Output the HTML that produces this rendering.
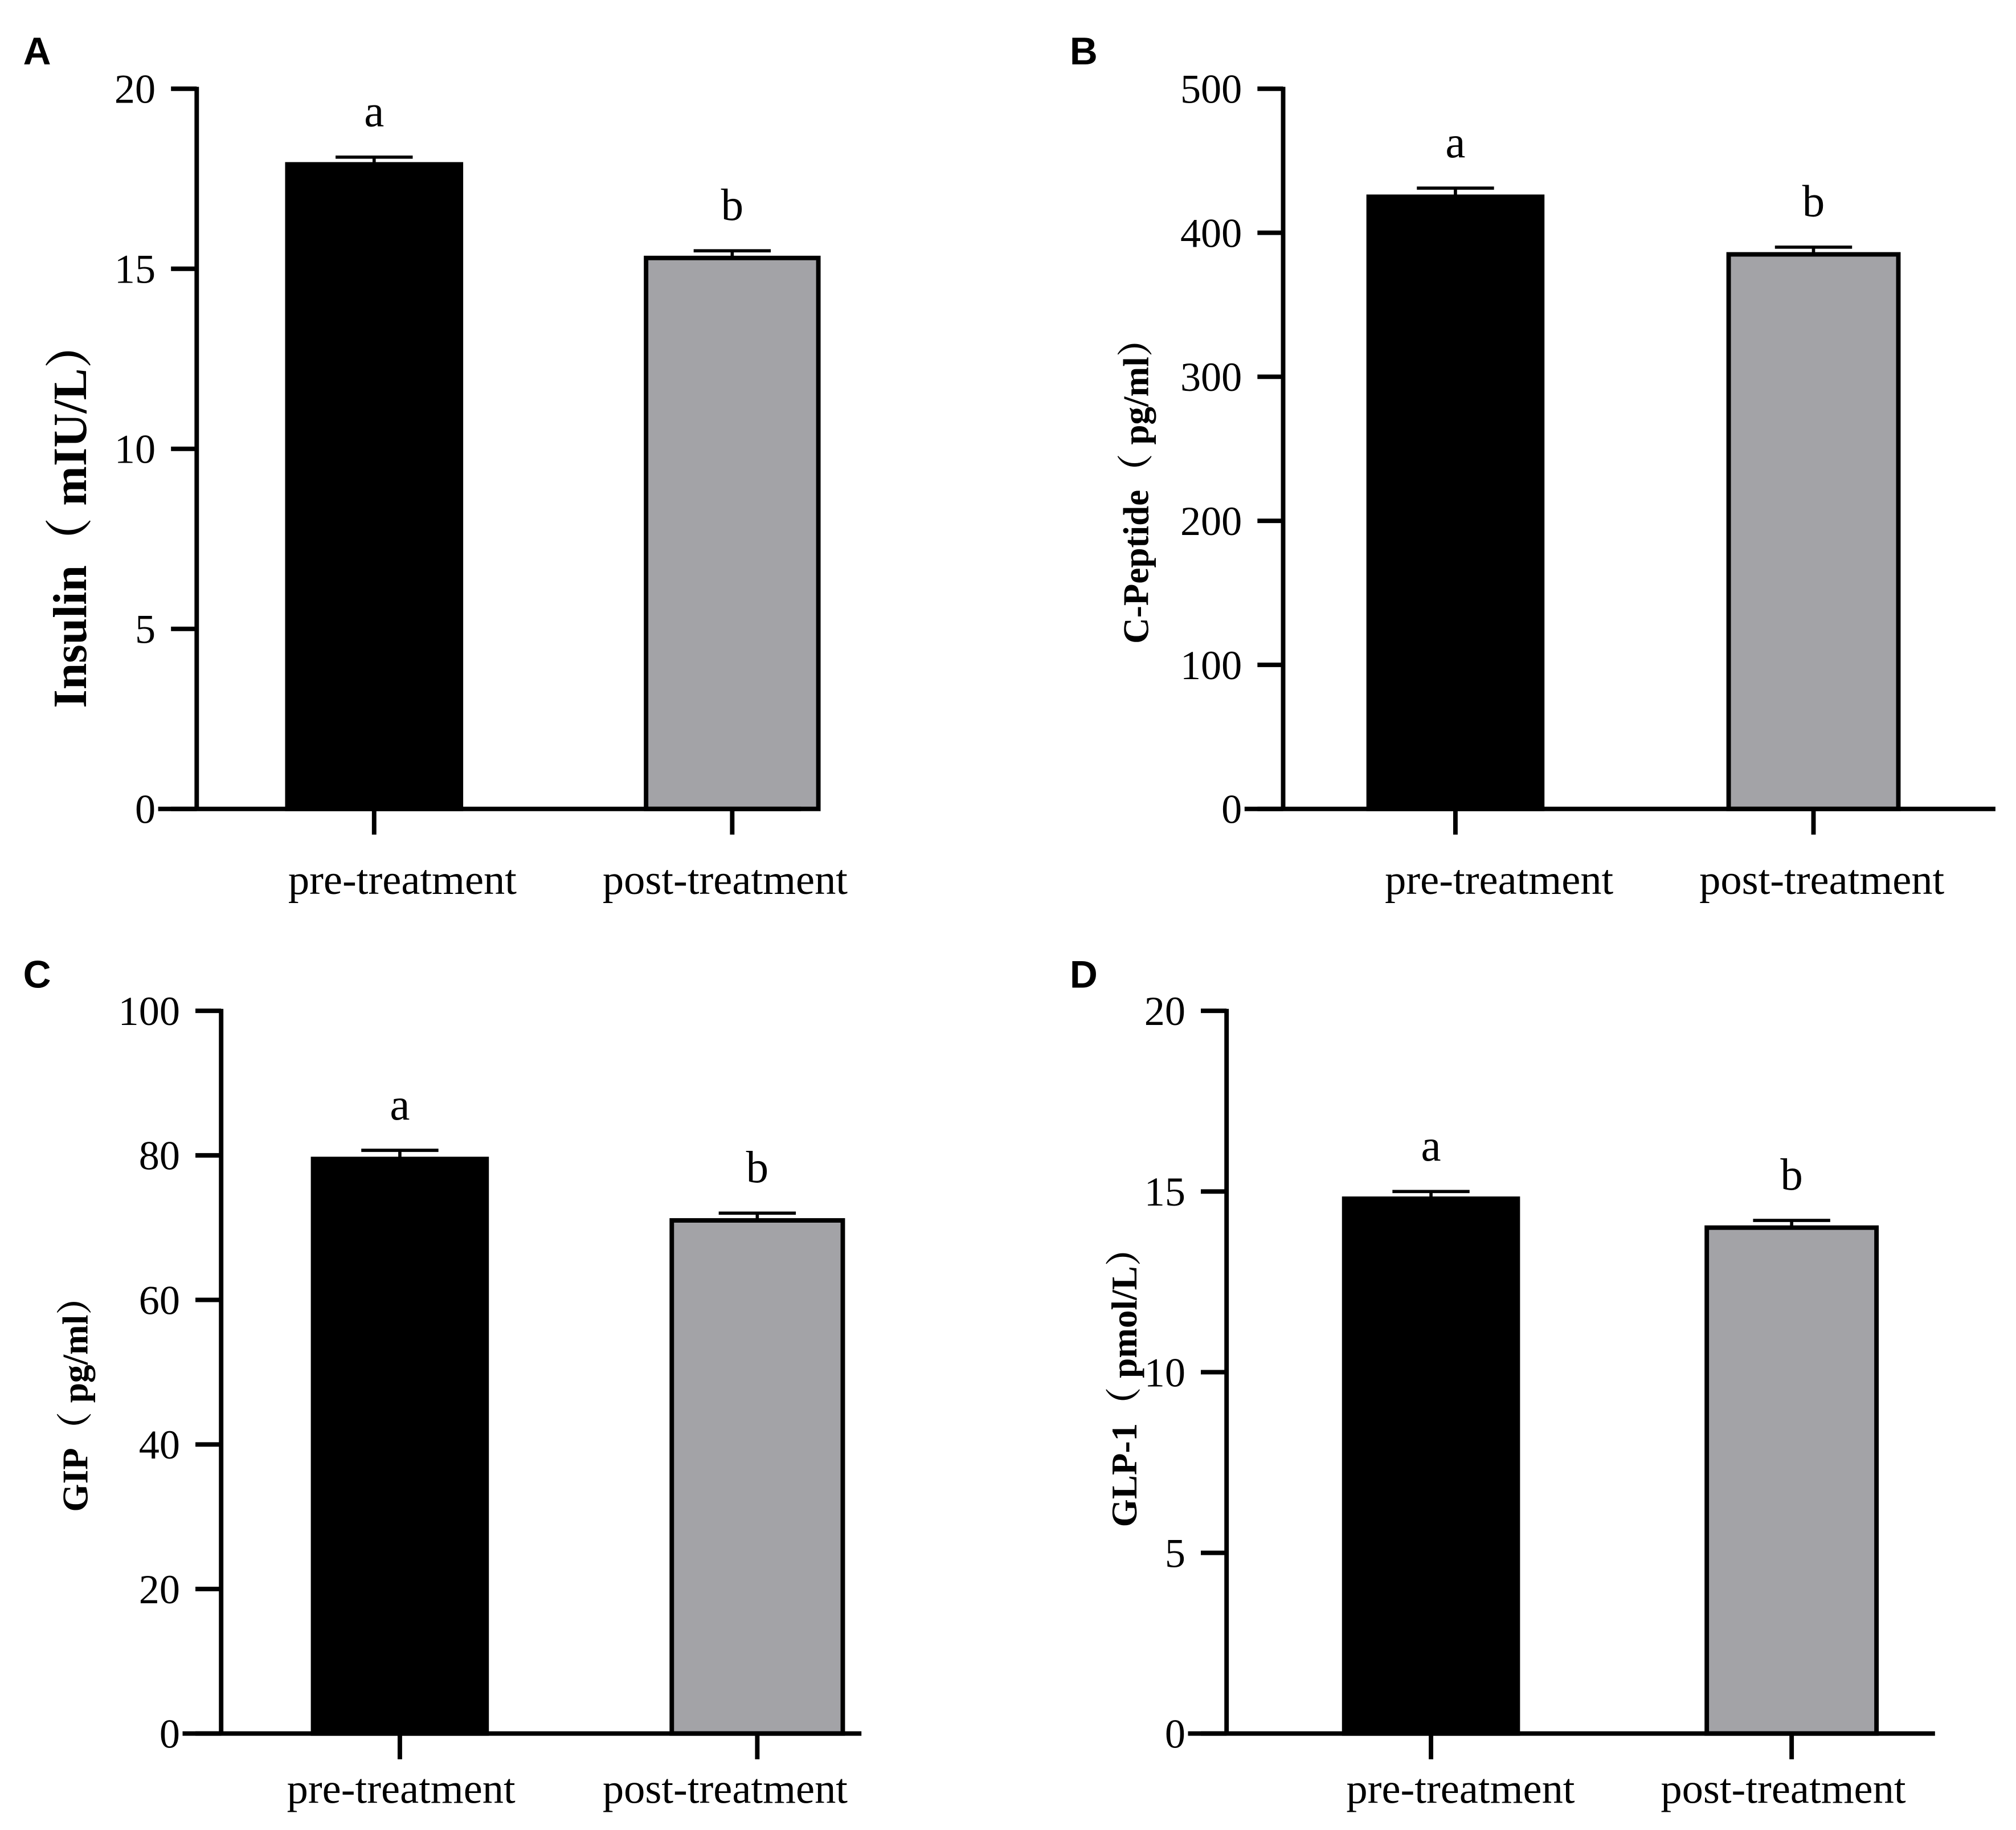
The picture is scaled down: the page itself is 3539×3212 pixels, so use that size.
<!DOCTYPE html>
<html><head><meta charset="utf-8"><style>
html,body{margin:0;padding:0;background:#fff;}
svg{display:block;}
text{font-family:"Liberation Serif","Noto Serif CJK SC",serif;fill:#000;}
.plab{font-family:"Liberation Sans",sans-serif;font-weight:bold;font-size:30px;}
</style></head><body>
<svg id="fig" width="3539" height="3212" viewBox="0 0 1568 1423" preserveAspectRatio="none" xmlns="http://www.w3.org/2000/svg"></svg>
<script>
const categories = ["pre-treatment","post-treatment"];
const insulinValues = [17.9, 15.3];
const insulinErrors = [0.2, 0.2];
const insulinTicks = [0,5,10,15,20];
const cpepValues = [425, 385];
const cpepErrors = [6, 5];
const cpepTicks = [0,100,200,300,400,500];
const gipValues = [79.5, 71];
const gipErrors = [1.2, 1.0];
const gipTicks = [0,20,40,60,80,100];
const glpValues = [14.8, 14.0];
const glpErrors = [0.2, 0.2];
const glpTicks = [0,5,10,15,20];
const sigLetters = ["a","b"];

const NS="http://www.w3.org/2000/svg";
const svg=document.getElementById('fig');
function mk(tag,attrs,parent){const e=document.createElementNS(NS,tag);for(const k in attrs)e.setAttribute(k,attrs[k]);(parent||svg).appendChild(e);return e;}

const panels=[
 {id:"a",label:"A",lx:18,ly:50,ax:153,top:69,zero:629,xend:623,bars:[[222,360],[501,638]],lxs:[313,564],vals:insulinValues,errs:insulinErrors,ticks:insulinTicks,title:"Insulin\uFF08 mIU/L\uFF09",tsize:37,tx:67,tcy:400,loff:66},
 {id:"b",label:"B",lx:832,ly:50,ax:998,top:69,zero:629,xend:1552,bars:[[1063,1201],[1343,1478]],lxs:[1166,1417],vals:cpepValues,errs:cpepErrors,ticks:cpepTicks,title:"C-Peptide\uFF08 pg/ml\uFF09",tsize:28,tx:893,tcy:375,loff:66},
 {id:"c",label:"C",lx:18,ly:768,ax:172,top:786,zero:1348,xend:670,bars:[[242,380],[521,657]],lxs:[312,564],vals:gipValues,errs:gipErrors,ticks:gipTicks,title:"GIP\uFF08 pg/ml\uFF09",tsize:28,tx:68,tcy:1085,loff:54},
 {id:"d",label:"D",lx:832,ly:768,ax:954,top:786,zero:1348,xend:1505,bars:[[1044,1182],[1326,1461]],lxs:[1136,1387],vals:glpValues,errs:glpErrors,ticks:glpTicks,title:"GLP-1\uFF08 pmol/L\uFF09",tsize:28,tx:884,tcy:1072,loff:54}
];

panels.forEach(p=>{
  const g=mk('g',{});
  
  
  const pl=mk('text',{x:p.lx,y:p.ly,class:'plab'},g);pl.textContent=p.label;
  
  
  const maxT=p.ticks[p.ticks.length-1];
  const y=v=>p.zero-(v/maxT)*(p.zero-p.top);
  p.vals.forEach((v,i)=>{
    const [x0,x1]=p.bars[i];
    const cx=(x0+x1)/2;
    const err=mk('path',{d:`M${cx} ${y(v)} V${y(v+p.errs[i])} M${cx-30} ${y(v+p.errs[i])} H${cx+30}`,stroke:'#000','stroke-width':2.5,fill:'none'},g);
    
    
    const r=mk('rect',{x:x0+1.5,y:y(v),width:x1-x0-3,height:p.zero-y(v),fill:i==0?'#000':'#a3a3a7',stroke:'#000','stroke-width':3.5},g);
    
    
    const sl=mk('text',{x:cx,y:y(v+p.errs[i])-24,'text-anchor':'middle','font-size':35},g);
    sl.textContent=sigLetters[i];
    
    
    const tk=mk('line',{x1:cx,y1:p.zero,x2:cx,y2:p.zero+20,stroke:'#000','stroke-width':3.5},g);
    
    
    const cl=mk('text',{x:p.lxs[i],y:p.zero+p.loff,'text-anchor':'middle','font-size':33},g);
    cl.textContent=categories[i];
    
    
  });
  const ya=mk('line',{x1:p.ax,y1:p.top-1.5,x2:p.ax,y2:p.zero+1.5,stroke:'#000','stroke-width':3.5},g);
  
  
  const xa=mk('line',{x1:p.ax-30,y1:p.zero,x2:p.xend,y2:p.zero,stroke:'#000','stroke-width':3.5},g);
  
  
  p.ticks.forEach(t=>{
    const l=mk('line',{x1:p.ax-20,y1:y(t),x2:p.ax,y2:y(t),stroke:'#000','stroke-width':3.5},g);
    
    
    const tt=mk('text',{x:p.ax-32,y:y(t)+11,'text-anchor':'end','font-size':32},g);
    tt.textContent=t;
    
    
  });
  const ti=mk('text',{x:0,y:0,'text-anchor':'middle','font-size':p.tsize,'font-weight':'bold',transform:`translate(${p.tx},${p.tcy}) rotate(-90)`},g);
  ti.textContent=p.title;
  
  
});
</script>
</body></html>
